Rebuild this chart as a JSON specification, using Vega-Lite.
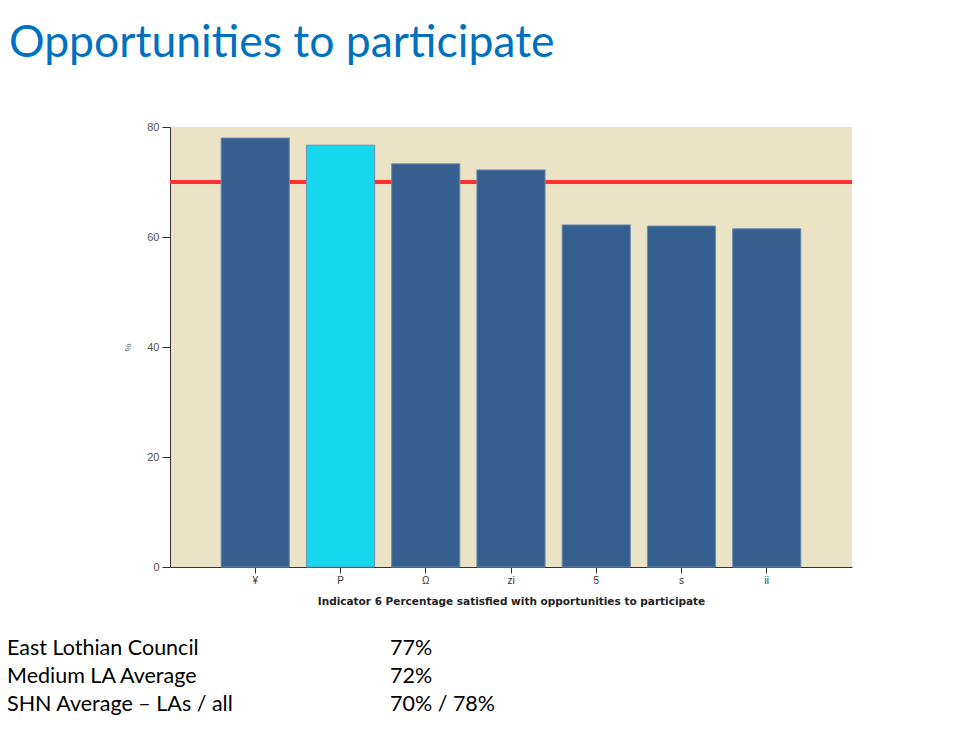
{
  "$schema": "https://vega.github.io/schema/vega-lite/v6.json",
  "background": "white",
  "padding": {"left": 7, "top": 20, "right": 10, "bottom": 10},
  "spacing": 28,
  "config": {"view": {"stroke": null}},
  "vconcat": [
    {
      "width": 682,
      "height": 440,
      "view": {"fill": "#EBE3C5", "stroke": null},
      "title": {
        "text": "Opportunities to participate",
        "anchor": "start",
        "frame": "group",
        "dx": -161,
        "font": "Lato",
        "fontSize": 44.5,
        "fontWeight": "normal",
        "color": "#0070C0",
        "offset": 55
      },
      "data": {
        "values": [
          {"area": "¥", "pct": 78.0, "group": "Other"},
          {"area": "P", "pct": 76.7, "group": "East Lothian Council"},
          {"area": "Ω", "pct": 73.3, "group": "Other"},
          {"area": "zi", "pct": 72.2, "group": "Other"},
          {"area": "5", "pct": 62.2, "group": "Other"},
          {"area": "s", "pct": 62.0, "group": "Other"},
          {"area": "ii", "pct": 61.5, "group": "Other"}
        ]
      },
      "layer": [
        {
          "mark": {"type": "rule", "color": "#FF3030", "strokeWidth": 4},
          "encoding": {"y": {"datum": 70, "type": "quantitative"}}
        },
        {
          "mark": {"type": "bar", "stroke": "#6F8DB0", "strokeWidth": 1},
          "encoding": {
            "x": {
              "field": "area",
              "type": "nominal",
              "sort": null,
              "scale": {"paddingInner": 0.2, "paddingOuter": 0.6},
              "axis": {
                "title": "Indicator 6 Percentage satisfied with opportunities to participate",
                "labelAngle": 0,
                "domainColor": "#333333",
                "tickColor": "#333333",
                "tickSize": 6,
                "labelFont": "Liberation Sans",
                "labelFontSize": 10,
                "labelColor": "#333333",
                "labelPadding": 2,
                "titleFont": "DejaVu Sans",
                "titleFontSize": 10.5,
                "titleFontWeight": "bold",
                "titleColor": "#222222",
                "titlePadding": 11
              }
            },
            "y": {
              "field": "pct",
              "type": "quantitative",
              "scale": {"domain": [0, 80], "nice": false},
              "axis": {
                "title": "%",
                "values": [0, 20, 40, 60, 80],
                "domainColor": "#333333",
                "tickColor": "#333333",
                "tickSize": 8,
                "labelFont": "Liberation Sans",
                "labelFontSize": 11,
                "labelColor": "#555555",
                "labelPadding": 3,
                "titleFont": "Liberation Sans",
                "titleFontSize": 9,
                "titleFontWeight": "normal",
                "titleColor": "#555555",
                "titlePadding": 14,
                "gridColor": "#D4CAAE"
              }
            },
            "color": {
              "field": "group",
              "type": "nominal",
              "scale": {"domain": ["Other", "East Lothian Council"], "range": ["#355F8F", "#15D8EE"]},
              "legend": null
            }
          }
        }
      ]
    },
    {
      "width": 383,
      "height": 84,
      "data": {
        "values": [
          {"line": 1, "col": "label", "text": "East Lothian Council"},
          {"line": 1, "col": "value", "text": "77%"},
          {"line": 2, "col": "label", "text": "Medium LA Average"},
          {"line": 2, "col": "value", "text": "72%"},
          {"line": 3, "col": "label", "text": "SHN Average – LAs / all"},
          {"line": 3, "col": "value", "text": "70% / 78%"}
        ]
      },
      "mark": {"type": "text", "align": "left", "baseline": "middle", "font": "Lato", "fontSize": 21.5, "color": "#000000", "dx": -163},
      "encoding": {
        "x": {"field": "col", "type": "nominal", "scale": {"padding": 0}, "axis": null},
        "y": {"field": "line", "type": "ordinal", "scale": {"padding": 0.5}, "axis": null},
        "text": {"field": "text"}
      }
    }
  ]
}
